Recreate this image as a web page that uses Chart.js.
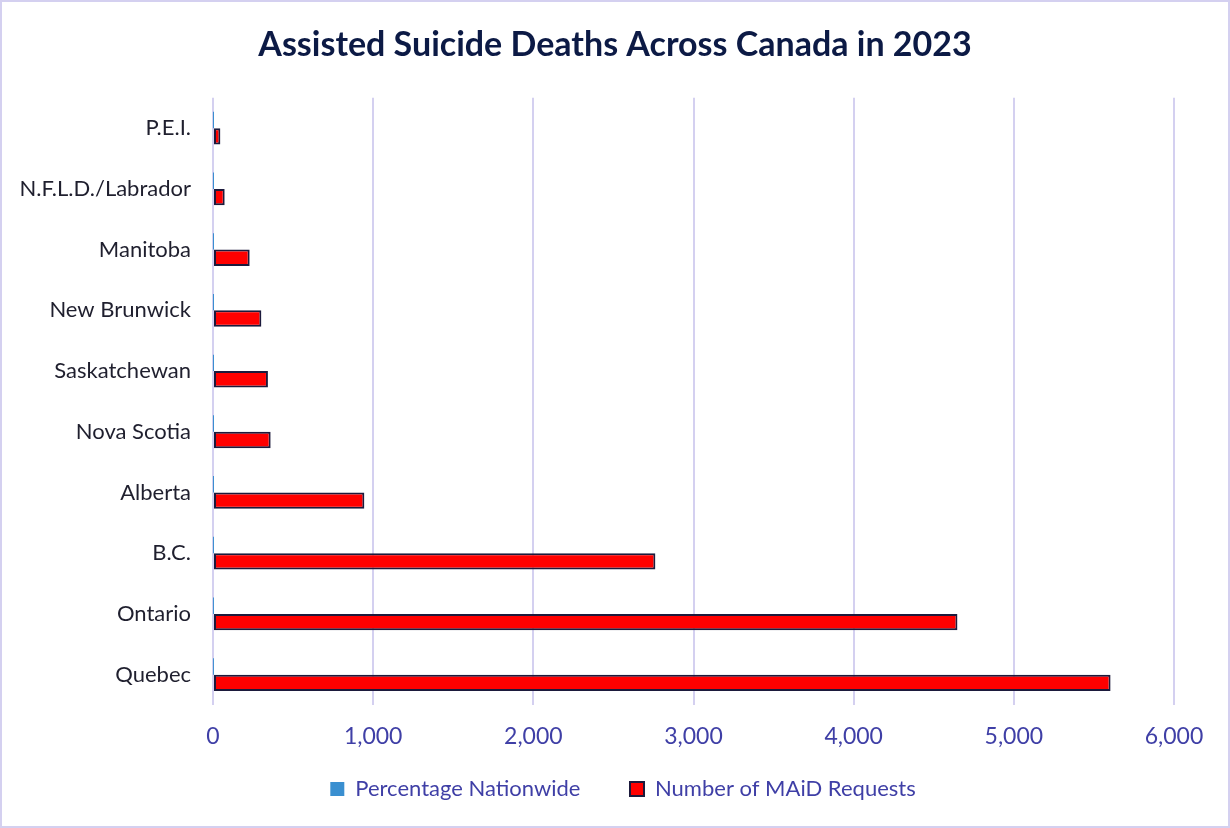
<!DOCTYPE html>
<html>
<head>
<meta charset="utf-8">
<script src="https://cdn.jsdelivr.net/npm/chart.js@4.4.1/dist/chart.umd.min.js"></script>
<style>
  html, body { margin: 0; padding: 0; background: #ffffff; }
  #wrap { width: 1230px; height: 828px; position: relative; }
</style>
</head>
<body>
<div id="wrap"><canvas id="c" width="1230" height="828"></canvas></div>
<script>
const categories = ["P.E.I.", "N.F.L.D./Labrador", "Manitoba", "New Brunwick", "Saskatchewan", "Nova Scotia", "Alberta", "B.C.", "Ontario", "Quebec"];
const percentageNationwide = [0.003, 0.005, 0.015, 0.02, 0.022, 0.024, 0.062, 0.18, 0.304, 0.366];
const maidRequests = [46, 73, 229, 302, 343, 360, 945, 2762, 4648, 5604];
const xTickValues = [0, 1000, 2000, 3000, 4000, 5000, 6000];

const FONT = "Lato, 'Open Sans', sans-serif";
const AXIS_TEXT = "#3f3fa6";

const frame = {
  id: 'frame',
  beforeDraw(chart) {
    const ctx = chart.ctx;
    ctx.save();
    ctx.fillStyle = '#ffffff';
    ctx.fillRect(0, 0, chart.width, chart.height);
    ctx.strokeStyle = '#d4d0f0';
    ctx.lineWidth = 2;
    ctx.strokeRect(1, 1, chart.width - 2, chart.height - 2);
    ctx.restore();
    // centre the title over the whole canvas
    if (chart.titleBlock) {
      chart.titleBlock.left = 0;
      chart.titleBlock.right = chart.width;
    }
    // nudge the legend to the reference position
    if (chart.legend && !chart.legend._shifted) {
      chart.legend.left += 36;
      chart.legend.right += 36;
      chart.legend._shifted = true;
    }
  }
};

new Chart(document.getElementById('c'), {
  type: 'bar',
  data: {
    labels: categories,
    datasets: [
      {
        label: 'Percentage Nationwide',
        data: percentageNationwide,
        backgroundColor: '#3a8fd0',
        borderColor: '#3a8fd0',
        borderWidth: 0,
        categoryPercentage: 0.54,
        barPercentage: 1.0
      },
      {
        label: 'Number of MAiD Requests',
        data: maidRequests,
        backgroundColor: '#ff0000',
        borderColor: '#1c1a3c',
        borderWidth: 2,
        borderSkipped: false,
        categoryPercentage: 0.54,
        barPercentage: 1.0
      }
    ]
  },
  options: {
    indexAxis: 'y',
    responsive: false,
    animation: false,
    layout: { padding: { left: 0, right: 56, top: 0, bottom: 18 } },
    plugins: {
      title: {
        display: true,
        text: 'Assisted Suicide Deaths Across Canada in 2023',
        color: '#0c1a45',
        font: { family: FONT, size: 34, weight: 'bold' },
        padding: { top: 25, bottom: 32 }
      },
      legend: {
        position: 'bottom',
        labels: {
          color: AXIS_TEXT,
          font: { family: FONT, size: 22 },
          boxWidth: 14,
          boxHeight: 14,
          padding: 27,
          generateLabels(chart) {
            const items = Chart.defaults.plugins.legend.labels.generateLabels(chart);
            items.forEach((it, i) => { if (i < items.length - 1) it.text = it.text + '    '; });
            return items;
          }
        }
      },
      tooltip: { enabled: false }
    },
    scales: {
      x: {
        min: 0,
        max: 6000,
        afterBuildTicks(scale) { scale.ticks = xTickValues.map(v => ({ value: v })); },
        afterFit(scale) { scale.height = 46; },
        grid: { color: '#d4d0f0', lineWidth: 2, drawTicks: false },
        border: { display: false },
        ticks: {
          color: AXIS_TEXT,
          font: { family: FONT, size: 23 },
          padding: 18,
          maxRotation: 0,
          callback: v => v.toLocaleString('en-US')
        }
      },
      y: {
        afterFit(scale) { scale.width = 213; },
        grid: { display: false, drawTicks: false },
        border: { display: false },
        ticks: {
          color: '#1f1f2e',
          font: { family: FONT, size: 22 },
          padding: 22
        }
      }
    }
  },
  plugins: [frame]
});
</script>
</body>
</html>
